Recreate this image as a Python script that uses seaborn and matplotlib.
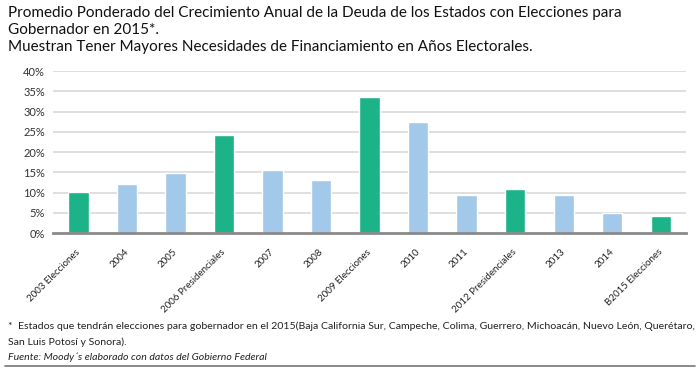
import matplotlib
matplotlib.use("Agg")
import matplotlib.pyplot as plt
import matplotlib.transforms as mtransforms
import seaborn as sns
import pandas as pd

categories = ["2003 Elecciones", "2004", "2005", "2006 Presidenciales", "2007", "2008",
              "2009 Elecciones", "2010", "2011", "2012 Presidenciales", "2013", "2014",
              "B2015 Elecciones"]
values = [10.2, 12.1, 14.8, 24.3, 15.6, 13.2, 33.7, 27.4, 9.4, 10.9, 9.4, 5.0, 4.1]
kinds = ["elec", "no", "no", "elec", "no", "no", "elec", "no", "no", "elec", "no", "no", "elec"]
yticks = [0, 5, 10, 15, 20, 25, 30, 35, 40]

palette = {"elec": "#1db388", "no": "#a2c8ea"}

df = pd.DataFrame({"cat": categories, "val": values, "kind": kinds})

sns.set_theme(style="white")
plt.rcParams["font.family"] = ["Lato", "DejaVu Sans"]

fig = plt.figure(figsize=(7, 3.7), dpi=100)
ax = fig.add_axes([0.076, 0.370, 0.904, 0.438])

ax.set_axisbelow(True)
for t in yticks[1:]:
    ax.axhline(t, color="#dcdcdc", lw=1.3, zorder=0)

sns.barplot(data=df, x="cat", y="val", hue="kind", palette=palette, dodge=False,
            width=0.42, legend=False, ax=ax, saturation=1, zorder=2)

ax.set_ylim(0, 40)
ax.set_xlim(-0.52, len(categories) - 0.48)
ax.set_yticks(yticks)
ax.set_yticklabels([f"{t}%" for t in yticks], fontsize=8, color="#333333")
ax.set_xlabel("")
ax.set_ylabel("")
for s in ["top", "right", "left"]:
    ax.spines[s].set_visible(False)
ax.spines["bottom"].set_color("#8a8a8a")
ax.spines["bottom"].set_linewidth(2)
ax.tick_params(axis="both", length=0, pad=6)
ax.set_xticks(range(len(categories)))
ax.set_xticklabels(categories, rotation=45, ha="right", rotation_mode="anchor",
                   fontsize=7, color="#222222")
offset = mtransforms.ScaledTranslation(-0.03, -0.06, fig.dpi_scale_trans)
for lbl in ax.get_xticklabels():
    lbl.set_transform(lbl.get_transform() + offset)

fig.text(0.011, 0.985, "Promedio Ponderado del Crecimiento Anual de la Deuda de los Estados con Elecciones para\n"
         "Gobernador en 2015*.\nMuestran Tener Mayores Necesidades de Financiamiento en Años Electorales.",
         ha="left", va="top", fontsize=11, color="#111111", linespacing=1.3)

fig.text(0.011, 0.119, "*  Estados que tendrán elecciones para gobernador en el 2015(Baja California Sur, Campeche, Colima, Guerrero, Michoacán, Nuevo León, Querétaro,",
         ha="left", va="center", fontsize=7.55, color="#222222")
fig.text(0.011, 0.076, "San Luis Potosí y Sonora).", ha="left", va="center", fontsize=7.55, color="#222222")
fig.text(0.011, 0.035, "Fuente: Moody´s elaborado con datos del Gobierno Federal", ha="left", va="center",
         fontsize=7.55, style="italic", color="#222222")
fig.add_artist(plt.Line2D([0.007, 0.993], [0.012, 0.012], color="#777777", lw=1.2,
                          transform=fig.transFigure))

fig.savefig("out.png", dpi=100)
